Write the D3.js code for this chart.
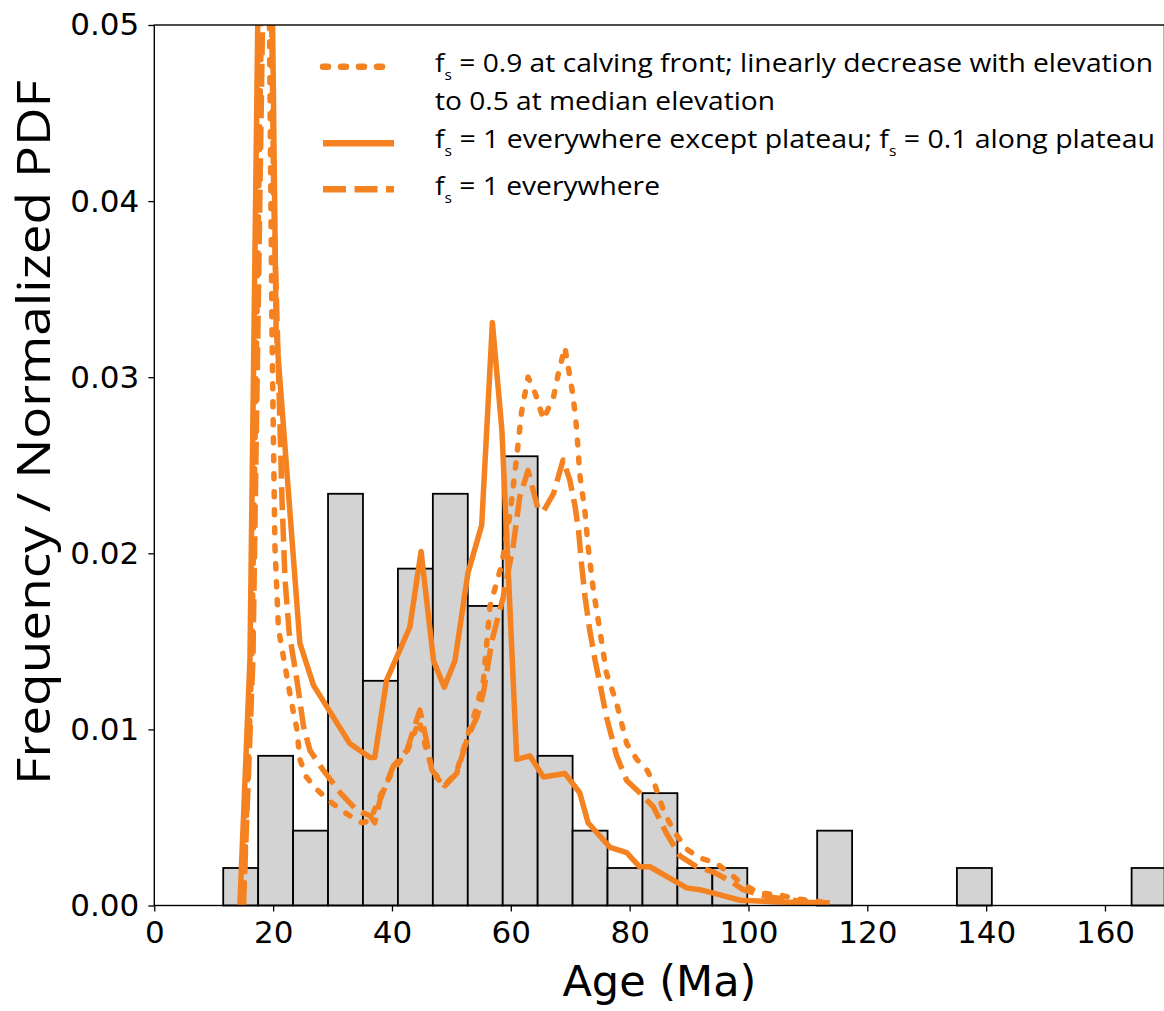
<!DOCTYPE html>
<html>
<head>
<meta charset="utf-8">
<script src="https://cdn.jsdelivr.net/npm/d3@7"></script>
<style>
  html, body { margin: 0; padding: 0; background: #fff; }
  svg { display: block; }
</style>
</head>
<body>
<svg id="chart" width="1164" height="1011"></svg>
<script>
// ---- data -------------------------------------------------------------
// histogram of observed ages: bin edges (Ma) and normalized frequency
const binEdges = [11.60, 17.48, 23.36, 29.24, 35.12, 41.00, 46.88, 52.76, 58.64,
  64.52, 70.40, 76.28, 82.16, 88.04, 93.92, 99.80, 105.68, 111.56, 117.44, 123.32,
  129.20, 135.08, 140.96, 146.84, 152.72, 158.60, 164.48, 170.36];
const binDensity = [0.00213, 0.00850, 0.00425, 0.02338, 0.01276, 0.01913, 0.02338,
  0.01701, 0.02551, 0.00850, 0.00425, 0.00213, 0.00638, 0.00213, 0.00213, 0, 0,
  0.00425, 0, 0, 0, 0.00213, 0, 0, 0, 0, 0.00213];

// modelled PDF, f_s = 0.9 at calving front decreasing to 0.5 at median elevation
const pdfFrontAge = [15.0, 16.4, 18.9, 19.8, 20.3, 20.9, 22.0, 23.1, 24.0, 24.5, 25.6,
  27.3, 29.6, 32.4, 34.9, 36.3, 38.0, 40.2, 42.5, 44.6, 45.8, 47.0, 48.7, 50.8, 52.6,
  54.2, 55.4, 56.5, 58.5, 59.9, 61.0, 61.8, 62.9, 64.1, 65.5, 67.2, 68.0, 69.1, 70.5,
  71.1, 71.6, 72.5, 73.0, 73.9, 75.0, 76.1, 77.8, 79.5, 81.2, 82.9, 84.3, 85.7, 87.3,
  89.6, 91.8, 94.6, 96.9, 99.1, 101.9, 105.3, 107.5, 110.0, 112.3];
const pdfFront = [0, 0.0140, 0.0700, 0.0327, 0.0204, 0.0157, 0.0136, 0.0115, 0.0100,
  0.0083, 0.0073, 0.0066, 0.0059, 0.0052, 0.0047, 0.0048, 0.0062, 0.0077, 0.0087,
  0.0105, 0.0088, 0.0075, 0.0068, 0.0075, 0.0095, 0.0112, 0.0128, 0.0170, 0.0194,
  0.0223, 0.0255, 0.0280, 0.0300, 0.0291, 0.0276, 0.0289, 0.0302, 0.0317, 0.0289,
  0.0270, 0.0245, 0.0223, 0.0204, 0.0179, 0.0156, 0.0132, 0.0115, 0.0092, 0.0083,
  0.0077, 0.0068, 0.0054, 0.0043, 0.0032, 0.0027, 0.0024, 0.0018, 0.0012, 0.0007,
  0.0006, 0.0004, 0.0003, 0.0002];

// modelled PDF, f_s = 1 everywhere except plateau, 0.1 along plateau
const pdfPlateauAge = [14.4, 16.1, 18.7, 20.5, 24.5, 26.8, 32.9, 36.3, 37.1, 39.1,
  43.0, 44.9, 47.0, 48.8, 50.6, 52.8, 55.1, 56.9, 58.5, 60.4, 61.0, 63.2, 65.5, 69.1,
  71.6, 73.0, 76.7, 79.5, 81.7, 83.4, 89.6, 91.8, 94.1, 98.6, 105.0, 113.7];
const pdfPlateau = [0, 0.0140, 0.0855, 0.0327, 0.0149, 0.0125, 0.0092, 0.0084, 0.0084,
  0.0128, 0.0158, 0.0201, 0.0139, 0.0124, 0.0139, 0.0189, 0.0216, 0.0331, 0.0270,
  0.0128, 0.0083, 0.0085, 0.0073, 0.0075, 0.0064, 0.0047, 0.0033, 0.0030, 0.0022,
  0.0022, 0.0010, 0.0009, 0.0007, 0.0003, 0.0002, 0.00016];

// modelled PDF, f_s = 1 everywhere
const pdfUniformAge = [15.0, 16.6, 19.1, 20.1, 21.5, 22.0, 22.7, 24.0, 25.1, 26.2,
  28.4, 31.3, 34.1, 36.3, 37.1, 38.0, 40.2, 42.5, 44.7, 45.8, 46.7, 48.9, 50.9, 52.8,
  54.3, 55.4, 56.8, 58.7, 60.4, 61.5, 62.9, 64.6, 65.5, 67.2, 68.8, 69.9, 70.8, 71.4,
  71.9, 72.5, 73.3, 74.2, 75.0, 76.1, 77.8, 79.5, 81.7, 84.0, 86.2, 88.5, 91.3, 94.1,
  96.9, 99.1, 103.1, 107.5, 110.0];
const pdfUniform = [0, 0.0140, 0.0700, 0.0400, 0.0230, 0.0185, 0.0155, 0.0128, 0.0102,
  0.0088, 0.0077, 0.0064, 0.0054, 0.0051, 0.0047, 0.0060, 0.0079, 0.0088, 0.0111,
  0.0094, 0.0077, 0.0068, 0.0075, 0.0096, 0.0107, 0.0121, 0.0150, 0.0175, 0.0204,
  0.0232, 0.0247, 0.0225, 0.0224, 0.0234, 0.0253, 0.0242, 0.0227, 0.0213, 0.0194,
  0.0175, 0.0156, 0.0139, 0.0126, 0.0107, 0.0085, 0.0071, 0.0064, 0.0056, 0.0041,
  0.0028, 0.0022, 0.0019, 0.0014, 0.0009, 0.0005, 0.0003, 0.0002];

const xTickValues = [0, 20, 40, 60, 80, 100, 120, 140, 160];
const yTickValues = [0, 0.01, 0.02, 0.03, 0.04, 0.05];

const legendItems = [
  { key: "front", lines: [
      [["f"], ["s", "sub"], [" = 0.9 at calving front; linearly decrease with elevation"]],
      [["to 0.5 at median elevation"]] ] },
  { key: "plateau", lines: [
      [["f"], ["s", "sub"], [" = 1 everywhere except plateau; f"], ["s", "sub"], [" = 0.1 along plateau"]] ] },
  { key: "uniform", lines: [
      [["f"], ["s", "sub"], [" = 1 everywhere"]] ] }
];

// ---- layout & styles ----------------------------------------------------
const orange = "#f58220";
const plot = { left: 154.3, right: 1164.4, top: 25, bottom: 905.5 };
const lineStyles = {
  front:   { dash: "5,13", cap: "round", width: 5.5 },
  plateau: { dash: null,   cap: "butt",  width: 5.5 },
  uniform: { dash: "23,8.5", cap: "butt", width: 5.5 }
};

const svg = d3.select("#chart");

const x = d3.scaleLinear().domain([0, 170]).range([plot.left, plot.right]);
const y = d3.scaleLinear().domain([0, 0.05]).range([plot.bottom, plot.top]);

svg.append("defs").append("clipPath").attr("id", "plotClip")
  .append("rect")
  .attr("x", plot.left).attr("y", plot.top)
  .attr("width", plot.right - plot.left).attr("height", plot.bottom - plot.top);

// histogram bars
svg.append("g").attr("class", "bars")
  .selectAll("rect")
  .data(binDensity.map((d, i) => ({ x0: binEdges[i], x1: binEdges[i + 1], v: d }))
        .filter(d => d.v > 0))
  .join("rect")
  .attr("x", d => x(d.x0))
  .attr("width", d => x(d.x1) - x(d.x0))
  .attr("y", d => y(d.v))
  .attr("height", d => y(0) - y(d.v))
  .attr("fill", "#d3d3d3")
  .attr("stroke", "#000")
  .attr("stroke-width", 1.8);

// PDF curves
const line = d3.line().x(d => x(d[0])).y(d => y(d[1]));
const curves = [
  { key: "uniform", ages: pdfUniformAge, vals: pdfUniform },
  { key: "front",   ages: pdfFrontAge,   vals: pdfFront },
  { key: "plateau", ages: pdfPlateauAge, vals: pdfPlateau }
];
const curveG = svg.append("g").attr("clip-path", "url(#plotClip)");
curves.forEach(c => {
  const st = lineStyles[c.key];
  curveG.append("path")
    .datum(c.ages.map((a, i) => [a, c.vals[i]]))
    .attr("d", line)
    .attr("fill", "none")
    .attr("stroke", orange)
    .attr("stroke-width", st.width)
    .attr("stroke-linejoin", "round")
    .attr("stroke-linecap", st.cap)
    .attr("stroke-dasharray", st.dash);
});

// axes
const tickFont = "'DejaVu Sans', sans-serif";
const xAxis = svg.append("g")
  .attr("transform", `translate(0,${plot.bottom})`)
  .call(d3.axisBottom(x).tickValues(xTickValues).tickSize(6).tickPadding(9).tickFormat(d3.format("d")));
const yAxis = svg.append("g")
  .attr("transform", `translate(${plot.left},0)`)
  .call(d3.axisLeft(y).tickValues(yTickValues).tickSize(6).tickPadding(9).tickFormat(d3.format(".2f")));
[xAxis, yAxis].forEach(g => {
  g.select(".domain").remove();
  g.selectAll(".tick line").attr("stroke", "#000").attr("stroke-width", 1.3);
  g.selectAll(".tick text").attr("fill", "#000")
    .style("font-family", tickFont).style("font-size", "31px");
});

// spines
const spines = svg.append("g").attr("stroke", "#000").attr("stroke-width", 1.4).attr("fill", "none");
spines.append("rect")
  .attr("x", plot.left).attr("y", plot.top)
  .attr("width", plot.right - plot.left).attr("height", plot.bottom - plot.top);

// axis titles
svg.append("text")
  .attr("x", (plot.left + plot.right) / 2).attr("y", 996)
  .attr("text-anchor", "middle")
  .style("font-family", tickFont).style("font-size", "43px")
  .text("Age (Ma)");

const labelFont = "'Open Sans', 'Noto Sans', sans-serif";
svg.append("text")
  .attr("transform", "translate(50,785) rotate(-90)")
  .attr("textLength", 705).attr("lengthAdjust", "spacingAndGlyphs")
  .style("font-family", labelFont).style("font-size", "46px")
  .text("Frequency / Normalized PDF");

// legend
const legend = svg.append("g").attr("class", "legend");
const handleY = [66.7, 143.3, 189.3];
const textBaselines = [[72, 110], [148], [195]];
const textWidths = [[718, 340], [720], [225]];
legendItems.forEach((item, i) => {
  const st = lineStyles[item.key];
  legend.append("line")
    .attr("x1", 323).attr("x2", 394)
    .attr("y1", handleY[i]).attr("y2", handleY[i])
    .attr("stroke", orange)
    .attr("stroke-width", st.width + 1)
    .attr("stroke-linecap", st.cap)
    .attr("stroke-dasharray", st.dash);
  item.lines.forEach((parts, j) => {
    const t = legend.append("text")
      .attr("x", 435).attr("y", textBaselines[i][j])
      .attr("textLength", textWidths[i][j]).attr("lengthAdjust", "spacingAndGlyphs")
      .style("font-family", labelFont).style("font-size", "25.5px").attr("fill", "#000");
    let shifted = false;
    parts.forEach(p => {
      const sp = t.append("tspan").text(p[0]);
      if (p[1] === "sub") {
        sp.attr("dy", 8).style("font-size", "14px");
        shifted = true;
      } else if (shifted) {
        sp.attr("dy", -8);
        shifted = false;
      }
    });
  });
});
</script>
</body>
</html>
